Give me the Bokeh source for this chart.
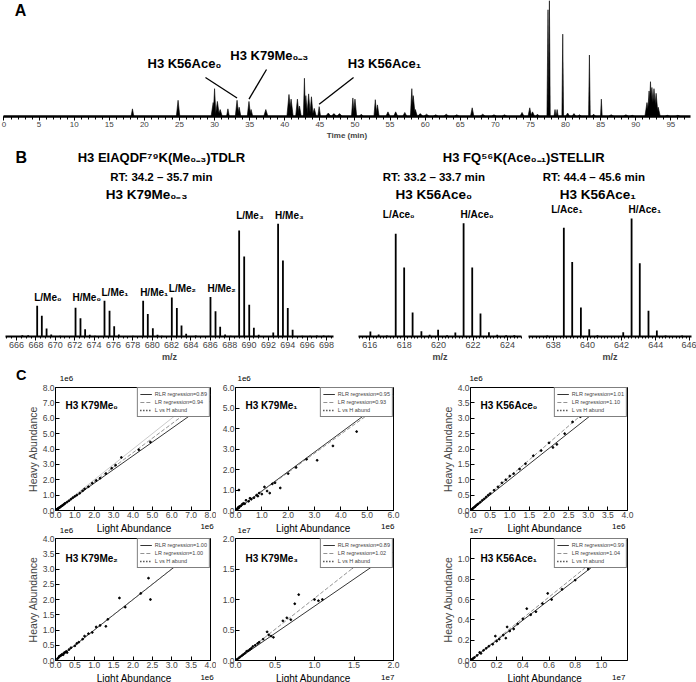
import numpy as np
from bokeh.plotting import figure
from bokeh.layouts import column, row
from bokeh.models import Range1d, Label, SingleIntervalTicker, PrintfTickFormatter
from bokeh.embed import file_html
from bokeh.resources import INLINE

# ------------------------------------------------------------------ data
# Panel A: chromatogram peaks (time in min, relative intensity, half base width in min)
chrom_time = [18.3, 24.8, 29.8, 30.0, 30.4, 30.8, 31.9, 33.2, 33.5, 34.9, 35.2, 37.3,
              40.6, 40.9, 41.8, 42.1, 42.8, 43.0, 43.4, 43.8, 44.2, 44.9, 46.2, 47.0,
              47.8, 49.7, 50.0, 50.9, 52.9, 53.2, 54.7, 55.8, 57.1, 58.1, 58.3, 58.6,
              59.3, 60.2, 61.5, 63.0, 64.5, 66.7, 68.2, 69.8, 71.3, 73.8, 74.9, 75.3,
              76.0, 77.5, 77.7, 78.5, 78.8, 79.6, 80.3, 81.2, 82.0, 83.4, 84.0, 85.1,
              86.5, 88.6, 89.5, 91.6, 91.9, 92.1, 92.3, 92.6, 92.9, 93.2, 94.5, 96.0]
chrom_int = [0.066, 0.14, 0.12, 0.24, 0.13, 0.06, 0.066, 0.14, 0.08, 0.13, 0.06, 0.06,
             0.19, 0.15, 0.15, 0.09, 0.33, 0.18, 0.195, 0.17, 0.07, 0.085, 0.03, 0.025,
             0.025, 0.16, 0.15, 0.02, 0.145, 0.10, 0.04, 0.04, 0.035, 0.24, 0.18, 0.06,
             0.025, 0.02, 0.015, 0.02, 0.015, 0.075, 0.02, 0.015, 0.015, 0.035, 0.075, 0.04,
             0.02, 0.92, 1.0, 0.06, 0.06, 0.71, 0.03, 0.025, 0.015, 0.53, 0.02, 0.15,
             0.015, 0.015, 0.01, 0.12, 0.22, 0.30, 0.25, 0.24, 0.20, 0.08, 0.01, 0.01]
chrom_hw = [0.2, 0.25, 0.3, 0.2, 0.3, 0.3, 0.2, 0.25, 0.25, 0.25, 0.25, 0.3,
            0.3, 0.3, 0.25, 0.25, 0.15, 0.25, 0.25, 0.25, 0.3, 0.2, 0.4, 0.4,
            0.4, 0.2, 0.25, 0.3, 0.2, 0.25, 0.3, 0.3, 0.3, 0.2, 0.3, 0.3,
            0.4, 0.4, 0.4, 0.4, 0.4, 0.25, 0.4, 0.4, 0.4, 0.3, 0.25, 0.3,
            0.3, 0.15, 0.12, 0.15, 0.15, 0.12, 0.3, 0.3, 0.3, 0.12, 0.3, 0.12,
            0.4, 0.4, 0.4, 0.3, 0.25, 0.2, 0.3, 0.3, 0.3, 0.3, 0.4, 0.4]
callout_text = ["H3 K56Ace\u2080", "H3 K79Me\u2080\u208b\u2083", "H3 K56Ace\u2081"]
callout_peak = [33.2, 34.9, 44.9]

# Panel B spectra (m/z, relative intensity)
k79_mz = [666.6, 667.2, 668.13, 668.61, 669.10, 669.58, 670.5, 672.09, 672.60, 673.08,
          673.56, 674.1, 675.08, 675.60, 676.08, 676.56, 678.0, 679.07, 679.55, 680.07,
          680.55, 681.0, 682.03, 682.55, 683.03, 683.51, 684.5, 686.02, 686.54, 687.02,
          687.53, 688.1, 688.98, 689.50, 690.02, 690.50, 691.0, 692.5, 693.0, 693.5,
          694.0, 694.5, 695.5, 696.3, 697.0, 697.7, 698.2]
k79_int = [1.2, 1.2, 27.3, 18.4, 7.1, 1.8, 0.6, 25.5, 16.3, 6.5,
           1.5, 0.6, 31.8, 22.8, 9.2, 1.8, 0.6, 31.8, 19.9, 7.4,
           1.5, 0.6, 34.7, 25.2, 9.8, 2.4, 0.9, 35.0, 22.3, 8.6,
           1.8, 0.6, 94.1, 70.9, 28.2, 7.7, 1.5, 3.6, 100.0, 67.4,
           25.2, 5.9, 0.6, 0.6, 0.9, 0.9, 0.6]
k79_labels = ["L/Me\u2080", "H/Me\u2080", "L/Me\u2081", "H/Me\u2081",
              "L/Me\u2082", "H/Me\u2082", "L/Me\u2083", "H/Me\u2083"]
k79_mono = [668.13, 672.09, 675.08, 679.07, 682.03, 686.02, 688.98, 693.0]

ace0_mz = [616.04, 616.52, 617.0, 617.51, 618.0, 618.49, 619.0, 619.48, 619.97, 620.49,
           620.97, 621.45, 621.95, 622.43, 622.92, 623.4, 623.92, 624.39]
ace0_int = [4.4, 1.8, 0.9, 90.6, 60.8, 21.2, 4.7, 1.5, 5.9, 1.2,
            3.5, 100.0, 60.8, 20.4, 3.8, 1.5, 1.2, 1.2]
ace0_labels = ["L/Ace\u2080", "H/Ace\u2080"]
ace0_mono = [617.51, 621.45]

ace1_mz = [637.65, 638.62, 639.11, 639.62, 640.11, 640.59, 642.1, 642.59, 643.07, 643.58,
           644.07, 644.58, 645.55]
ace1_int = [0.8, 92.1, 63.2, 24.6, 6.2, 1.1, 3.7, 100.0, 62.0, 21.8, 5.1, 0.8, 0.8]
ace1_labels = ["L/Ace\u2081", "H/Ace\u2081"]
ace1_mono = [638.62, 642.59]

# Panel C scatter (light, heavy) in axis units
me0_x = [0.05, 0.08, 0.1, 0.12, 0.15, 0.18, 0.2, 0.25, 0.3, 0.35, 0.4, 0.45, 0.5, 0.6, 0.7, 0.8,
         0.9, 1.0, 1.1, 1.25, 1.4, 1.5, 1.7, 1.9, 2.1, 2.3, 2.6, 2.9, 3.1, 3.4, 4.3, 4.9]
me0_y = [0.05, 0.07, 0.1, 0.11, 0.14, 0.17, 0.19, 0.23, 0.28, 0.32, 0.37, 0.42, 0.47, 0.55, 0.64, 0.74,
         0.84, 0.92, 1.0, 1.12, 1.28, 1.4, 1.55, 1.78, 1.95, 2.1, 2.4, 2.75, 2.95, 3.45, 3.95, 4.45]
me1_x = [0.05, 0.08, 0.1, 0.12, 0.15, 0.2, 0.13, 0.25, 0.3, 0.35, 0.4, 0.5, 0.55, 0.6, 0.7, 0.8,
         0.85, 0.9, 1.0, 1.1, 1.2, 1.3, 1.4, 1.5, 1.7, 2.0, 2.3, 2.7, 3.1, 3.7, 4.6]
me1_y = [0.05, 0.1, 0.15, 0.12, 0.2, 0.22, 1.0, 0.3, 0.35, 0.33, 0.5, 0.45, 0.6, 0.55, 0.62, 0.75,
         0.7, 0.85, 0.8, 1.15, 0.95, 0.85, 1.3, 1.35, 1.1, 1.8, 2.1, 2.5, 2.45, 3.15, 3.85]
ace0_x = [0.03, 0.05, 0.07, 0.1, 0.12, 0.15, 0.18, 0.2, 0.25, 0.3, 0.35, 0.4, 0.45, 0.5, 0.6, 0.7,
          0.8, 0.9, 1.0, 1.1, 1.25, 1.4, 1.6, 1.8, 2.0, 2.1, 2.2, 2.4, 2.6, 2.8, 3.0]
ace0_y = [0.03, 0.06, 0.08, 0.11, 0.13, 0.17, 0.2, 0.22, 0.27, 0.33, 0.38, 0.44, 0.5, 0.55, 0.66, 0.77,
          0.9, 1.0, 1.12, 1.2, 1.35, 1.52, 1.78, 1.95, 2.2, 2.05, 2.15, 2.5, 2.88, 3.05, 3.3]
me2_x = [0.05, 0.08, 0.1, 0.12, 0.15, 0.17, 0.2, 0.22, 0.25, 0.28, 0.3, 0.35, 0.4, 0.5, 0.55, 0.6,
         0.7, 0.75, 0.85, 0.95, 1.05, 1.15, 1.3, 1.35, 1.65, 1.8, 2.2, 2.4, 2.45]
me2_y = [0.06, 0.1, 0.14, 0.15, 0.18, 0.2, 0.19, 0.25, 0.27, 0.3, 0.26, 0.36, 0.42, 0.48, 0.56, 0.6,
         0.7, 0.8, 0.88, 0.92, 1.1, 1.15, 1.12, 1.35, 2.05, 1.75, 2.2, 2.7, 2.0]
me3_x = [0.02, 0.04, 0.06, 0.08, 0.1, 0.12, 0.14, 0.16, 0.18, 0.2, 0.22, 0.25, 0.28, 0.3, 0.35,
         0.4, 0.42, 0.45, 0.48, 0.6, 0.65, 0.7, 0.75, 0.8, 1.0, 1.05, 1.1, 1.48]
me3_y = [0.02, 0.04, 0.06, 0.08, 0.1, 0.12, 0.15, 0.16, 0.18, 0.2, 0.23, 0.25, 0.28, 0.3, 0.35,
         0.47, 0.42, 0.4, 0.38, 0.65, 0.7, 0.67, 0.93, 1.08, 1.0, 0.98, 1.0, 1.53]
ace1_x = [0.01, 0.02, 0.03, 0.05, 0.07, 0.08, 0.1, 0.12, 0.14, 0.17, 0.19, 0.2, 0.22, 0.25, 0.27,
          0.28, 0.3, 0.33, 0.36, 0.4, 0.43, 0.46, 0.5, 0.55, 0.59, 0.62, 0.7, 0.8, 0.9, 0.95]
ace1_y = [0.01, 0.02, 0.03, 0.05, 0.08, 0.07, 0.1, 0.12, 0.14, 0.16, 0.24, 0.19, 0.21, 0.25, 0.22,
          0.33, 0.29, 0.31, 0.36, 0.41, 0.51, 0.45, 0.48, 0.56, 0.66, 0.6, 0.7, 0.79, 0.9, 0.94]

c_names = ["H3 K79Me\u2080", "H3 K79Me\u2081", "H3 K56Ace\u2080",
           "H3 K79Me\u2082", "H3 K79Me\u2083", "H3 K56Ace\u2081"]
c_rlr = [0.89, 0.95, 1.01, 1.00, 0.89, 0.99]
c_lr = [0.94, 0.93, 1.10, 1.00, 1.02, 1.04]
c_lim = [8.0, 6.0, 4.0, 4.0, 2.0, 1.2]
c_step = [1.0, 1.0, 0.5, 0.5, 0.5, 0.2]
c_exp = ["1e6", "1e6", "1e6", "1e6", "1e7", "1e7"]
c_x = [me0_x, me1_x, ace0_x, me2_x, me3_x, ace1_x]
c_y = [me0_y, me1_y, ace0_y, me2_y, me3_y, ace1_y]

# ------------------------------------------------------------------ helpers
FONT = "Liberation Sans"


def fs(v):
    return f"{v:.1f}px"


def mkfig(box, frame, xr, yr, **kw):
    x0, y0, x1, y1 = box
    fx0, fy0, fx1, fy1 = frame
    p = figure(width=x1 - x0, height=y1 - y0, x_range=xr, y_range=yr,
               output_backend="svg", toolbar_location=None,
               min_border_left=fx0 - x0, min_border_right=x1 - fx1,
               min_border_top=fy0 - y0, min_border_bottom=y1 - fy1, **kw)
    p.grid.visible = False
    p.background_fill_color = "white"
    p.border_fill_color = "white"
    return p


def strip(y0, y1):
    # text-only strip whose data coordinates equal page pixels
    p = mkfig((0, y0, 696, y1), (0, y0, 696, y1), Range1d(0, 696), Range1d(y1, y0),
              x_axis_location=None, y_axis_location=None)
    p.outline_line_color = None
    return p


def lab(p, x, y, text, size, bold=True, align="center", baseline="middle", xo=0, yo=0):
    p.add_layout(Label(x=x, y=y, text=text, text_font=FONT, text_font_size=fs(size),
                       text_font_style="bold" if bold else "normal", text_align=align,
                       text_baseline=baseline, x_offset=xo, y_offset=yo, text_color="black"))


# ------------------------------------------------------------------ panel A
pA = mkfig((0, 0, 696, 143), (3, 0, 690, 116), Range1d(-0.07, 97.8), Range1d(0, 1.0),
           y_axis_location=None)
pA.outline_line_color = None
pA.patches(xs=[[t - w, t, t + w] for t, w in zip(chrom_time, chrom_hw)],
           ys=[[0, h, 0] for h in chrom_int], fill_color="black", line_color="black", line_width=0.6)
ax = pA.xaxis[0]
ax.ticker = SingleIntervalTicker(interval=5, num_minor_ticks=5)
ax.axis_line_width = 2.5
ax.major_tick_in = 0
ax.major_tick_out = 4
ax.minor_tick_in = 0
ax.minor_tick_out = 3
ax.major_label_standoff = 1
ax.major_label_text_font = FONT
ax.major_label_text_font_size = fs(8)
ax.axis_label = "Time (min)"
ax.axis_label_text_font = FONT
ax.axis_label_text_font_size = fs(8)
ax.axis_label_text_font_style = "bold"
ax.axis_label_standoff = 1
lab(pA, 2.35, 0.914, "A", 16)
callout_txt_pos = [(25.7, 0.457), (37.8, 0.526), (54.2, 0.457)]
callout_line_start = [(28.7, 0.336), (37.4, 0.405), (49.8, 0.336)]
for txt, pk, (tx, ty), (sx, sy) in zip(callout_text, callout_peak, callout_txt_pos, callout_line_start):
    h = max(hh for t, hh in zip(chrom_time, chrom_int) if abs(t - pk) < 0.05)
    pA.line([sx, pk], [sy, h + 0.02], line_color="black", line_width=1.3)
    lab(pA, tx, ty, txt, 13)

# ------------------------------------------------------------------ panel B header
pH = strip(143, 203)
lab(pH, 18, 157, "B", 16)
lab(pH, 160, 157, "H3 EIAQDF\u2077\u2079K(Me\u2080\u208b\u2083)TDLR", 13)
lab(pH, 160, 176, "RT: 34.2 \u2013 35.7 min", 11.5)
lab(pH, 145, 194, "H3 K79Me\u2080\u208b\u2083", 13.5)
lab(pH, 527, 157, "H3 FQ\u2075\u2076K(Ace\u2080\u208b\u2081)STELLIR", 13)
lab(pH, 436, 176, "RT: 33.2 \u2013 33.7 min", 11.5)
lab(pH, 598, 176, "RT: 44.4 \u2013 45.6 min", 11.5)
lab(pH, 436, 194, "H3 K56Ace\u2080", 13.5)
lab(pH, 602, 194, "H3 K56Ace\u2081", 13.5)


# ------------------------------------------------------------------ panel B spectra
def spectrum(box, frame, xr, ymax, mz, inten, labels, monos, minor, lmode):
    p = mkfig(box, frame, Range1d(*xr), Range1d(0, ymax), y_axis_location=None)
    p.outline_line_color = None
    p.segment(x0=mz, y0=[0] * len(mz), x1=mz, y1=inten, line_color="black", line_width=1.8)
    a = p.xaxis[0]
    a.ticker = SingleIntervalTicker(interval=2, num_minor_ticks=minor)
    a.axis_line_width = 2
    a.major_tick_in = 0
    a.major_tick_out = 4
    a.minor_tick_in = 0
    a.minor_tick_out = 2
    a.major_label_standoff = 1
    a.major_label_text_font = FONT
    a.major_label_text_font_size = fs(9)
    a.axis_label = "m/z"
    a.axis_label_text_font = FONT
    a.axis_label_text_font_size = fs(9)
    a.axis_label_text_font_style = "bold"
    a.axis_label_standoff = 1
    for i, (txt, mono) in enumerate(zip(labels, monos)):
        j = i - (i % 2)
        pair = [monos[j], monos[j + 1]]
        top = max(v for m, v in zip(mz, inten)
                  if any(pm - 0.1 <= m <= pm + 1.6 for pm in pair))
        if lmode == "left" or txt.startswith("H"):
            lab(p, mono, top, txt, 10, align="left", baseline="bottom", xo=-3, yo=3)
        else:
            lab(p, mono, top, txt, 10, align="center", baseline="bottom", xo=3, yo=3)
    return p


pB1 = spectrum((0, 203, 350, 365), (5, 203, 333, 336), (664.86, 698.72), 118.0,
               k79_mz, k79_int, k79_labels, k79_mono, 4, "left")
pB2 = spectrum((350, 203, 524, 365), (358, 203, 521, 336), (615.35, 624.81), 117.4,
               ace0_mz, ace0_int, ace0_labels, ace0_mono, 10, "center")
pB3 = spectrum((524, 203, 696, 365), (528, 203, 691, 336), (636.55, 646.1), 112.7,
               ace1_mz, ace1_int, ace1_labels, ace1_mono, 10, "center")

# ------------------------------------------------------------------ panel C
col_box = [(0, 216), (216, 405), (405, 696)]
col_frame = [(55, 210), (235, 393), (470, 627)]
row_box = [(382, 522), (534, 671)]
row_frame = [(387, 510), (538, 660)]
strip_rows = [(365, 382), (522, 534), (671, 682)]

s1 = strip(*strip_rows[0])
s2 = strip(*strip_rows[1])
s3 = strip(*strip_rows[2])
lab(s1, 18, 374, "C", 14.5)
top_strip = [s1, s2]
bot_strip = [s2, s3]
top_y = [377.5, 529.5]
bot_xlabel_y = [527.5, 676.5]
bot_exp_y = [525.5, 675.5]

cfigs = []
for k in range(6):
    r, c = divmod(k, 3)
    lim = c_lim[k]
    p = mkfig((col_box[c][0], row_box[r][0], col_box[c][1], row_box[r][1]),
              (col_frame[c][0], row_frame[r][0], col_frame[c][1], row_frame[r][1]),
              Range1d(0, lim), Range1d(0, lim))
    p.outline_line_color = "black"
    p.outline_line_width = 1
    if k == 0:
        p.line([0, lim], [0, lim], line_color="#c4c4c4", line_width=0.9)
    p.line([0, lim], [0, c_rlr[k] * lim], line_color="black", line_width=0.8,
           legend_label=f"RLR regression={c_rlr[k]:.2f}")
    p.line([0, lim], [0, c_lr[k] * lim], line_color="#777777", line_width=0.8, line_dash="4 2",
           legend_label=f"LR regression={c_lr[k]:.2f}")
    p.scatter(c_x[k], c_y[k], size=1.8, color="black")
    p.line(np.array([np.nan]), np.array([np.nan]), line_color="black", line_width=1.5,
           line_dash="1 2", legend_label="L vs H abund")
    for a in (p.xaxis[0], p.yaxis[0]):
        a.ticker = SingleIntervalTicker(interval=c_step[k], num_minor_ticks=0)
        a.formatter = PrintfTickFormatter(format="%.1f")
        a.major_tick_in = 4
        a.major_tick_out = 0
        a.minor_tick_in = 0
        a.minor_tick_out = 0
        a.major_label_standoff = 1
        a.major_label_text_font = FONT
        a.major_label_text_font_size = fs(8.5)
        a.axis_label_text_font = FONT
        a.axis_label_text_font_size = fs(10.5)
        a.axis_label_text_font_style = "normal"
        a.axis_label_standoff = 1
    if c != 1:
        p.yaxis[0].axis_label = "Heavy Abundance"
    lg = p.legend[0]
    lg.location = "top_right"
    lg.margin = 0
    lg.padding = 2
    lg.spacing = 0
    lg.label_height = 8
    lg.glyph_height = 8
    lg.glyph_width = 12
    lg.label_standoff = 3
    lg.label_text_font = FONT
    lg.label_text_font_size = fs(5.5)
    lg.border_line_color = "black"
    lg.border_line_width = 0.8
    lg.background_fill_alpha = 1
    lab(p, 0, lim, c_names[k], 10, align="left", xo=10, yo=-(18 if r == 0 else 20))
    fl, fr = col_frame[c]
    # exponent above the y axis, x-axis title and exponent below the x axis
    lab(top_strip[r], fl + 2, top_y[r], c_exp[k], 8, bold=False, align="left")
    lab(bot_strip[r], (fl + fr) / 2, bot_xlabel_y[r], "Light Abundance", 10, bold=False)
    lab(bot_strip[r], fr + 3, bot_exp_y[r], c_exp[k], 8, bold=False, align="right")
    cfigs.append(p)

layout = column(pA, pH, row(pB1, pB2, pB3), s1, row(*cfigs[:3]), s2, row(*cfigs[3:]), s3)
open("out.html", "w").write(file_html(layout, INLINE))
